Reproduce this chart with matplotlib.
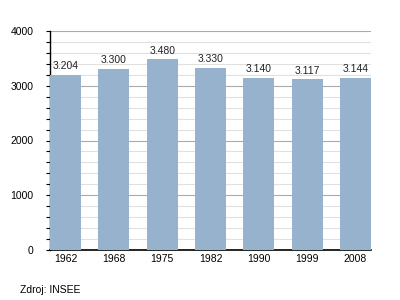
import matplotlib
matplotlib.use("Agg")
import matplotlib.pyplot as plt
from matplotlib.ticker import MultipleLocator

plt.rcParams["font.family"] = ["Liberation Sans", "DejaVu Sans"]

# Data
years = ["1962", "1968", "1975", "1982", "1990", "1999", "2008"]
population = [3204, 3300, 3480, 3330, 3140, 3117, 3144]
value_labels = ["3.204", "3.300", "3.480", "3.330", "3.140", "3.117", "3.144"]

fig = plt.figure(figsize=(4, 3), dpi=100)
ax = fig.add_axes([50 / 400, 50 / 300, 321 / 400, 219 / 300])

width = 0.64
x = range(len(years))
bars = ax.bar(x, population, width=width, color="#97b2cc", zorder=3)

for i, b in enumerate(bars):
    ax.text(b.get_x() + b.get_width() / 2, b.get_height() + 70, value_labels[i],
            ha="center", va="bottom", fontsize=7.5, color="#222222")

ax.set_xlim(-width / 2, len(years) - 1 + width / 2)
ax.set_ylim(0, 4000)
ax.set_xticks(list(x))
ax.set_xticklabels(years, fontsize=7.5)
ax.yaxis.set_major_locator(MultipleLocator(1000))
ax.yaxis.set_minor_locator(MultipleLocator(200))
ax.tick_params(axis="y", labelsize=7.5, length=3, width=0.8, pad=9)
ax.tick_params(axis="y", which="minor", length=3, width=0.8)
ax.tick_params(axis="x", length=0, pad=3)

ax.grid(axis="y", which="major", color="#aaaaaa", linewidth=0.8, zorder=0)
ax.grid(axis="y", which="minor", color="#e0e0e0", linewidth=0.8, zorder=0)

for side in ["top", "right"]:
    ax.spines[side].set_visible(False)
ax.spines["left"].set_linewidth(1)
ax.spines["bottom"].set_linewidth(1.2)

fig.text(20 / 400, 1 - 290 / 300, "Zdroj: INSEE", fontsize=7.5, va="center")

fig.savefig("out.png", dpi=100)
